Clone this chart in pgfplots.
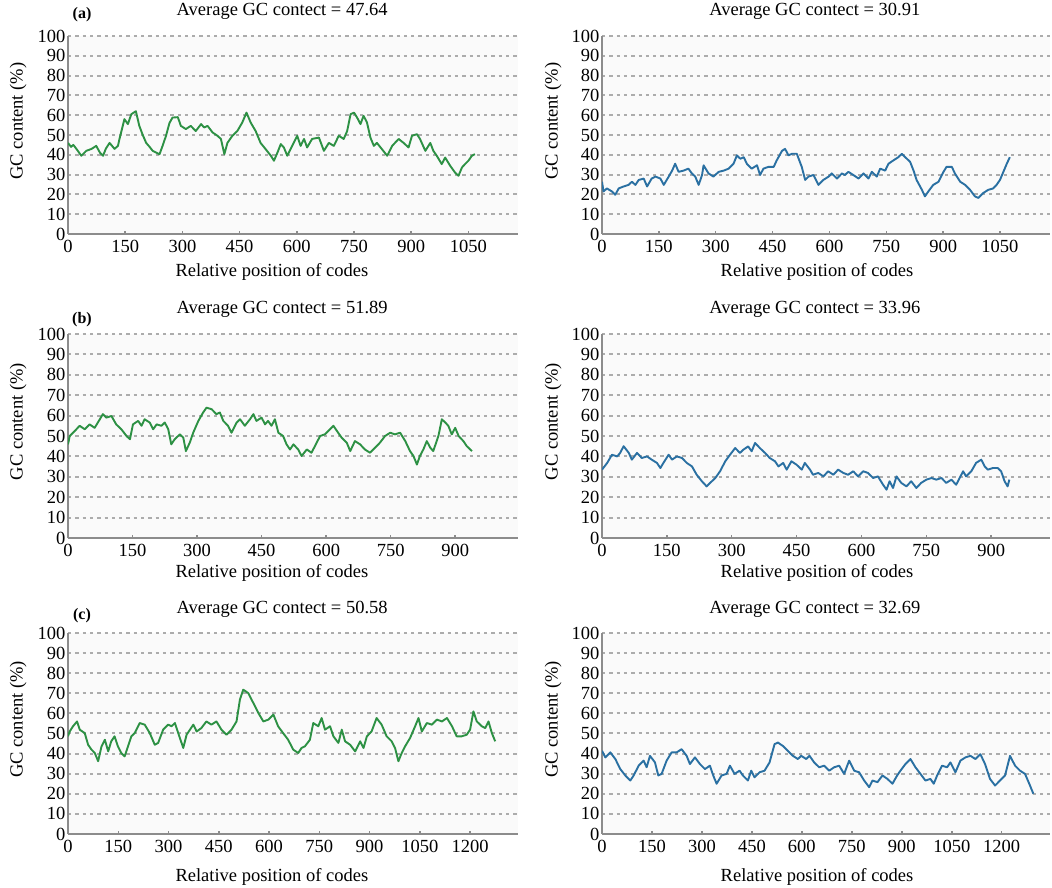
\documentclass[border=0pt]{standalone}
\usepackage{pgfplots}
\pgfplotsset{compat=1.18}
\usepackage{fontspec}
\setmainfont{Liberation Serif}
\definecolor{gcgreen}{RGB}{45,145,68}
\definecolor{gcblue}{RGB}{42,112,162}
\definecolor{gridgray}{RGB}{172,172,172}
\definecolor{axgray}{RGB}{140,140,140}
\pgfplotsset{
  gc/.style={
    scale only axis,
    ymin=0, ymax=100, ytick={0,10,...,100}, xmin=0,
    axis lines*=left,
    axis line style={-, draw=axgray, line width=1.6pt},
    x axis line style={line width=2.6pt},
    ymajorgrids,
    grid style={dash pattern=on 3.3pt off 4pt, line width=2pt, draw=gridgray},
    axis background/.style={fill=black!2},
    tick label style={font=\fontsize{18.5}{22}\selectfont},
    label style={font=\fontsize{18.5}{22}\selectfont},
    title style={font=\fontsize{18.5}{22}\selectfont, anchor=center},
    /pgf/number format/assume math mode=true,
    /pgf/number format/1000 sep={},
    tick align=inside,
    major tick length=3pt,
    xtick style={draw=axgray, line width=1.5pt},
    ytick style={draw=none},
    xticklabel style={yshift=-3pt},
    yticklabel style={xshift=1pt},
    xlabel={Relative position of codes},
    ylabel={GC content (\%)},
  },
  gcline/.style={line width=1.9pt, line join=round, no markers},
}
\begin{document}
\begin{tikzpicture}
\useasboundingbox (0,0) rectangle (1052pt,888pt);
% ---------------- Row (a) left
\begin{axis}[gc, at={(68pt,654pt)}, anchor=south west, width=450pt, height=198pt,
  xmax=1180, xtick={0,150,...,1050},
  title={Average GC contect = 47.64}, title style={at={(axis description cs:0.476,1.096)}},
  xlabel style={at={(axis description cs:0.453,-0.192)}, anchor=center},
  ylabel style={at={(axis description cs:-0.111,0.57)}, anchor=center}]
\addplot[gcline, gcgreen] coordinates {
(0,46)(8,44)(14,45)(22,43)(35,39.5)(48,42)(62,43)(74,44.5)(84,41)(92,39.5)(99,43)(109,46)(122,43)(131,44.5)(135,48)(148,58)(157,55.5)(166,60.5)(178,62)(187,54.6)(196,50)(205,46)(214,44)(222,42)(240,40.3)(248,44.5)(257,49.6)(266,56)(274,58.8)(288,59)(296,54.6)(309,53)(322,54.6)(335,52)(349,55.5)(357,53.8)(366,54.6)(379,51.3)(392,49.6)(401,48)(410,40.3)(418,46)(431,49.6)(444,52)(457,56.3)(468,61.3)(479,56.3)(492,52)(505,46)(518,42.9)(532,39.5)(540,37)(549,41)(558,45.4)(566,43.7)(575,39.5)(588,44.5)(601,49.6)(610,44.5)(619,48)(627,43.7)(640,48)(658,48.7)(671,42)(684,46)(697,44.5)(710,49.6)(723,48)(732,52)(741,60.5)(750,61.3)(758,58.8)(767,55.5)(775,59.7)(784,56.3)(793,48.7)(802,44.5)(810,46)(823,42.9)(837,39.5)(850,44.5)(867,48)(880,46)(893,43.7)(902,49.6)(915,50.4)(923,48)(937,42)(950,46)(958,42)(967,39.5)(980,35.3)(989,38.6)(1002,34.5)(1015,31)(1024,29.4)(1033,33.6)(1041,35.3)(1050,37)(1059,39.5)(1067,40.3)
};
\end{axis}
% ---------------- Row (a) right
\begin{axis}[gc, at={(602pt,654pt)}, anchor=south west, width=448pt, height=198pt,
  xmax=1182, xtick={0,150,...,1050},
  title={Average GC contect = 30.91}, title style={at={(axis description cs:0.475,1.096)}},
  xlabel style={at={(axis description cs:0.48,-0.192)}, anchor=center},
  ylabel style={at={(axis description cs:-0.109,0.57)}, anchor=center}]
\addplot[gcline, gcblue] coordinates {
(0,26.4)(4,21.5)(13,23)(26,21.5)(35,19.8)(44,23)(57,24)(70,24.8)(79,26.4)(88,24.8)(97,27.3)(110,28)(119,24)(131,28)(141,29)(154,28)(163,24.8)(176,29)(185,32)(193,35.5)(202,31.4)(215,32)(228,33)(237,30.6)(246,29)(255,24.8)(264,29.8)(268,34.7)(281,30.6)(294,29)(308,31.4)(321,32)(334,33)(347,35.5)(356,39.7)(365,38)(374,38.8)(382,35.5)(395,33)(409,34.7)(417,29.8)(426,33)(439,33.9)(453,33.9)(461,37.2)(475,42)(483,43)(492,39.7)(501,40.5)(514,40.5)(527,33.9)(536,27.3)(545,29)(558,29.8)(571,24.8)(584,27.3)(598,29)(606,30.6)(620,28)(633,30.6)(641,29.8)(650,31.4)(663,29.8)(677,28)(690,30.6)(703,28)(712,31.4)(725,29)(734,33)(747,32)(756,35.5)(769,37.2)(782,38.8)(791,40.5)(800,38.8)(813,36.4)(822,32)(830,27.3)(844,22.3)(852,19)(861,21.5)(874,24.8)(888,26.4)(901,31.4)(909,33.9)(923,33.9)(931,30.6)(945,26.4)(958,24.8)(971,22.3)(984,19)(993,18.2)(1006,20.7)(1019,22.3)(1032,23)(1041,24.8)(1050,27.3)(1059,31.4)(1068,35.5)(1076,38.8)
};
\end{axis}
% ---------------- Row (b) left
\begin{axis}[gc, at={(68pt,350pt)}, anchor=south west, width=450pt, height=204pt,
  xmax=1046, xtick={0,150,...,900},
  title={Average GC contect = 51.89}, title style={at={(axis description cs:0.476,1.093)}},
  xlabel style={at={(axis description cs:0.453,-0.172)}, anchor=center},
  ylabel style={at={(axis description cs:-0.111,0.57)}, anchor=center}]
\addplot[gcline, gcgreen] coordinates {
(0,45.9)(4,50)(16,52.5)(27,55)(39,53.3)(50,55.7)(62,54)(74,58.2)(81,60.7)(89,59)(101,59.8)(112,55.7)(124,53.3)(136,50)(144,48.4)(151,55.7)(163,57.4)(171,55)(178,58.2)(190,56.6)(198,53.3)(206,55.7)(217,55)(225,56.6)(233,53.3)(240,45.9)(248,48.4)(260,50.8)(268,49.2)(274,42.6)(283,46.7)(291,51.6)(303,57.4)(314,61.5)(322,63.9)(334,63.1)(345,60.7)(353,61.5)(361,57.4)(372,55)(380,51.6)(392,56.6)(400,58.2)(411,55)(423,58.2)(431,60.7)(438,57.4)(450,59)(458,55.7)(465,57.4)(473,55)(481,58.2)(489,51.6)(500,50)(508,45.9)(516,43.4)(524,45.9)(535,43.4)(543,40.2)(555,43.4)(566,41.8)(578,46.7)(586,50)(597,50.8)(609,53.3)(617,55)(625,52.5)(636,49.2)(648,46.7)(656,42.6)(667,47.5)(679,45.9)(690,43.4)(702,41.8)(714,44.3)(725,46.7)(737,50)(749,51.6)(760,50.8)(772,51.6)(784,47.5)(795,42.6)(803,40.2)(811,36)(818,40.2)(826,43.4)(834,47.5)(842,44.3)(849,42.6)(861,50)(869,58.2)(877,56.6)(884,55)(892,50.8)(900,54)(908,50)(919,47.5)(927,45)(939,42.6)
};
\end{axis}
% ---------------- Row (b) right
\begin{axis}[gc, at={(602pt,350pt)}, anchor=south west, width=448pt, height=204pt,
  xmax=1036, xtick={0,150,...,900},
  title={Average GC contect = 33.96}, title style={at={(axis description cs:0.475,1.093)}},
  xlabel style={at={(axis description cs:0.48,-0.172)}, anchor=center},
  ylabel style={at={(axis description cs:-0.109,0.57)}, anchor=center}]
\addplot[gcline, gcblue] coordinates {
(0,33.5)(12,36.8)(23,40.8)(35,40)(42,41.7)(50,45)(62,41.7)(69,38.4)(81,41.7)(92,39.2)(104,40)(115,38.4)(127,36.8)(135,34.3)(142,36.8)(154,40.8)(162,38.4)(173,40)(185,39.2)(196,36.8)(208,35.1)(219,31)(231,27.8)(242,25.3)(250,27)(262,29.4)(273,32.7)(285,37.6)(296,40.8)(308,44.1)(319,41.7)(327,43.3)(338,44.9)(346,42.5)(354,46.6)(365,44.1)(377,41.7)(388,39.2)(400,37.6)(408,35.1)(419,36.8)(427,33.5)(438,37.6)(450,35.9)(462,33.5)(469,36.8)(481,33.5)(488,31)(500,31.9)(512,30.2)(523,32.7)(535,31)(546,33.5)(558,31.9)(569,31)(581,32.7)(592,30.2)(604,32.7)(615,31.9)(627,29.4)(638,30.2)(650,26.1)(658,23.7)(665,27.8)(673,24.5)(681,30.2)(692,27)(704,25.3)(715,27.8)(727,24.5)(738,27)(750,28.6)(762,29.4)(773,28.6)(785,29.4)(796,27)(808,28.6)(819,26.1)(827,29.4)(835,32.7)(842,30.2)(854,32.7)(865,36.8)(877,38.4)(885,35.1)(892,33.5)(904,34.3)(915,34.3)(923,32.7)(931,27.8)(938,25.3)(942,28.6)
};
\end{axis}
% ---------------- Row (c) left
\begin{axis}[gc, at={(68pt,54pt)}, anchor=south west, width=450pt, height=201pt,
  xmax=1343, xtick={0,150,...,1200},
  title={Average GC contect = 50.58}, title style={at={(axis description cs:0.476,1.09)}},
  xlabel style={at={(axis description cs:0.453,-0.214)}, anchor=center},
  ylabel style={at={(axis description cs:-0.111,0.57)}, anchor=center}]
\addplot[gcline, gcgreen] coordinates {
(0,48.6)(5,51)(15,53.6)(27,56)(35,51.9)(50,50.2)(60,44.4)(70,42)(80,40.3)(90,36.2)(100,43.6)(110,46.9)(120,41.1)(129,46.1)(139,48.6)(149,43.6)(159,40.3)(169,38.6)(179,43.6)(189,48.6)(199,50.2)(214,55.2)(229,54.4)(244,50.2)(259,44.4)(269,45.3)(284,51.9)(299,54.4)(309,53.6)(319,55.2)(329,50.2)(344,42.8)(354,49.4)(364,51.9)(374,54.4)(384,51)(398,52.7)(413,56)(428,54.4)(443,56)(458,51.9)(473,49.4)(488,51.9)(503,56)(513,66.8)(523,71.8)(538,70.1)(553,65.2)(568,60.2)(583,56)(598,56.9)(613,59.4)(627,53.6)(642,50.2)(657,46.9)(672,42)(687,40.3)(697,42.8)(707,43.6)(722,46.9)(732,55.2)(747,53.6)(757,57.7)(767,51.9)(782,53.6)(792,48.6)(807,45.3)(817,51.9)(827,46.1)(842,44.4)(857,41.1)(872,46.1)(882,42.8)(892,48.6)(906,51)(921,57.7)(936,54.4)(951,48.6)(966,46.1)(976,42.8)(986,36.2)(996,40.3)(1006,43.6)(1021,47.8)(1036,53.6)(1046,57.7)(1056,51)(1071,55.2)(1086,54.4)(1101,56.9)(1116,56)(1131,57.7)(1146,53.6)(1160,48.6)(1175,48.6)(1190,49.4)(1200,51.9)(1210,61)(1220,56)(1235,53.6)(1245,52.7)(1255,56)(1265,50.2)(1275,46.1)
};
\end{axis}
% ---------------- Row (c) right
\begin{axis}[gc, at={(602pt,54pt)}, anchor=south west, width=448pt, height=201pt,
  xmax=1345, xtick={0,150,...,1200},
  title={Average GC contect = 32.69}, title style={at={(axis description cs:0.475,1.09)}},
  xlabel style={at={(axis description cs:0.48,-0.214)}, anchor=center},
  ylabel style={at={(axis description cs:-0.109,0.57)}, anchor=center}]
\addplot[gcline, gcblue] coordinates {
(0,41.4)(10,38.1)(25,40.6)(40,37.3)(55,32.3)(70,29.1)(85,26.6)(95,29.1)(110,34)(125,36.5)(134,33.2)(144,38.9)(159,35.6)(169,29.1)(179,29.9)(194,36.5)(209,40.6)(224,40.6)(239,42.2)(254,38.9)(264,34.8)(279,38.1)(294,34.8)(309,32.3)(324,34)(334,29.1)(344,25)(359,29.1)(374,29.9)(384,34)(398,29.9)(413,31.5)(423,29.1)(438,26.6)(448,31.5)(458,28.2)(473,30.7)(488,31.5)(503,35.6)(518,44.7)(528,45.5)(543,43.8)(558,41.4)(573,38.9)(588,37.3)(598,38.9)(613,37.3)(623,38.9)(637,35.6)(652,33.2)(667,34)(682,31.5)(697,33.2)(712,34)(727,29.9)(742,36.5)(757,31.5)(772,30.7)(787,26.6)(802,23.3)(812,26.6)(827,25.8)(842,29.1)(857,27.4)(872,25)(886,29.1)(896,31.5)(911,34.8)(926,37.3)(941,33.2)(956,29.9)(971,26.6)(986,27.4)(996,25)(1006,29.1)(1021,34)(1036,33.2)(1046,35.6)(1061,30.7)(1076,36.5)(1091,38.1)(1106,38.9)(1121,37.3)(1136,39.7)(1150,34.8)(1165,27.4)(1180,24.1)(1195,26.6)(1210,29.1)(1225,38.9)(1240,34)(1255,31.5)(1270,29.9)(1285,24.1)(1295,20)
};
\end{axis}
% panel labels
\node[font=\bfseries\fontsize{16}{18}\selectfont] at (82pt,873pt) {(a)};
\node[font=\bfseries\fontsize{16}{18}\selectfont] at (82pt,568pt) {(b)};
\node[font=\bfseries\fontsize{16}{18}\selectfont] at (82pt,272pt) {(c)};
\end{tikzpicture}
\end{document}
